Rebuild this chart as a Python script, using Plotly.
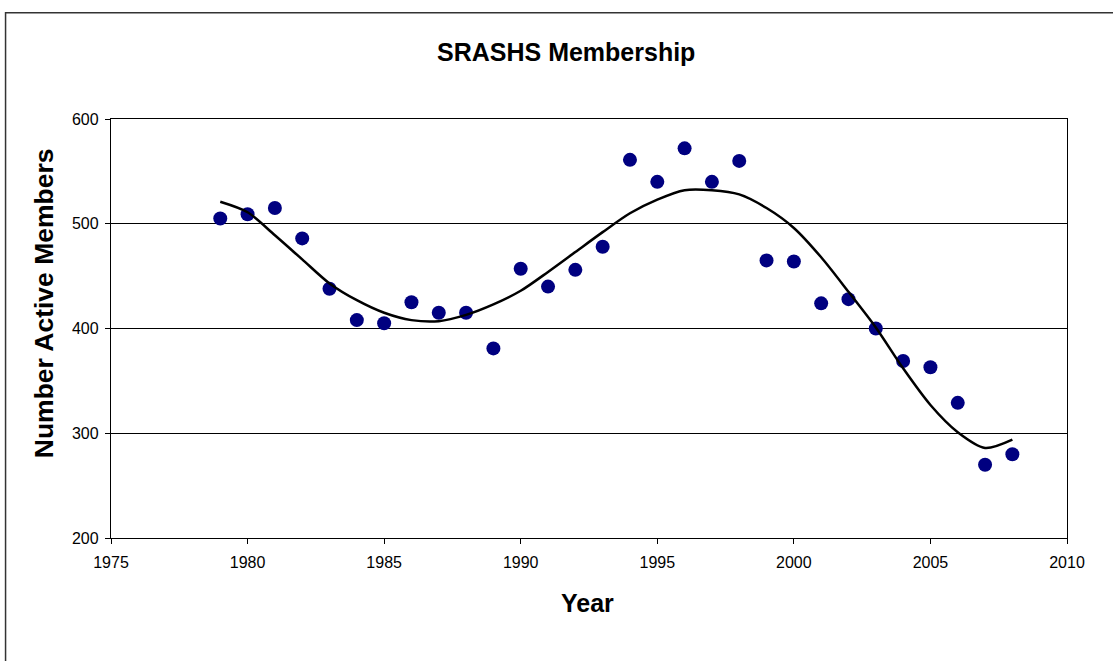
import plotly.graph_objects as go

# Data
years = list(range(1979, 2009))
members = [505, 509, 515, 486, 438, 408, 405, 425, 415, 415,
           381, 457, 440, 456, 478, 561, 540, 572, 540, 560,
           465, 464, 424, 428, 400, 369, 363, 329, 270, 280]

trend_years = list(range(1979, 2009))
trend_values = [521, 511, 489, 466, 443, 427, 415, 408, 407, 413,
                423, 436, 454, 473, 492, 510, 523, 532, 532, 528,
                515, 496, 468, 435, 401, 362, 327, 301, 286, 294]

title_text = "SRASHS Membership"
x_title = "Year"
y_title = "Number Active Members"

W, H = 1113, 661
L, R, T, B = 110.5, 1067.0, 119.3, 538.3

def px_x(p):
    return (p - L) / (R - L)

def px_y(p):
    return (B - p) / (B - T)

fig = go.Figure()
fig.add_trace(go.Scatter(
    x=years, y=members, mode="markers",
    marker=dict(color="#000080", size=14, line=dict(width=0)),
    showlegend=False, cliponaxis=False,
))
fig.add_trace(go.Scatter(
    x=trend_years, y=trend_values, mode="lines",
    line=dict(color="black", width=2.5, shape="spline", smoothing=0.8),
    showlegend=False,
))

font_family = "Liberation Sans, Arial, sans-serif"

fig.update_layout(
    width=W, height=H, autosize=False,
    margin=dict(l=L, r=W - R, t=T, b=H - B, pad=0),
    paper_bgcolor="white", plot_bgcolor="white",
    font=dict(family=font_family, color="black", size=16),
    xaxis=dict(
        range=[1975, 2010], dtick=5, tick0=1975,
        showgrid=False, zeroline=False,
        showline=True, linecolor="black", linewidth=1.3, mirror=True,
        ticks="outside", ticklen=5, tickcolor="black", tickwidth=1,
        ticklabelstandoff=5,
        tickfont=dict(size=16, family=font_family, color="black"),
    ),
    yaxis=dict(
        range=[200, 600], dtick=100, tick0=200,
        showgrid=True, gridcolor="black", gridwidth=1,
        zeroline=False,
        showline=True, linecolor="black", linewidth=1.3, mirror=True,
        ticks="outside", ticklen=5, tickcolor="black", tickwidth=1,
        ticklabelstandoff=3,
        tickfont=dict(size=16, family=font_family, color="black"),
    ),
    annotations=[
        dict(text="<b>" + title_text + "</b>", xref="paper", yref="paper",
             x=px_x(565.8), y=px_y(52), xanchor="center", yanchor="middle",
             showarrow=False, font=dict(size=25, family=font_family, color="black")),
        dict(text="<b>" + x_title + "</b>", xref="paper", yref="paper",
             x=px_x(587), y=px_y(603), xanchor="center", yanchor="middle",
             showarrow=False, font=dict(size=25, family=font_family, color="black")),
        dict(text="<b>" + y_title + "</b>", xref="paper", yref="paper",
             x=px_x(43), y=px_y(304), xanchor="center", yanchor="middle",
             textangle=-90,
             showarrow=False, font=dict(size=26.5, family=font_family, color="black")),
    ],
    shapes=[
        dict(type="rect", xref="paper", yref="paper",
             x0=px_x(5), y0=px_y(700), x1=px_x(1130), y1=px_y(13),
             line=dict(color="#333333", width=1.5), fillcolor="rgba(0,0,0,0)",
             layer="below"),
    ],
)

fig.write_html(
    "out.html",
    config={"displayModeBar": False},
    post_script="document.body.style.margin='0px';document.body.style.overflow='hidden';",
)
